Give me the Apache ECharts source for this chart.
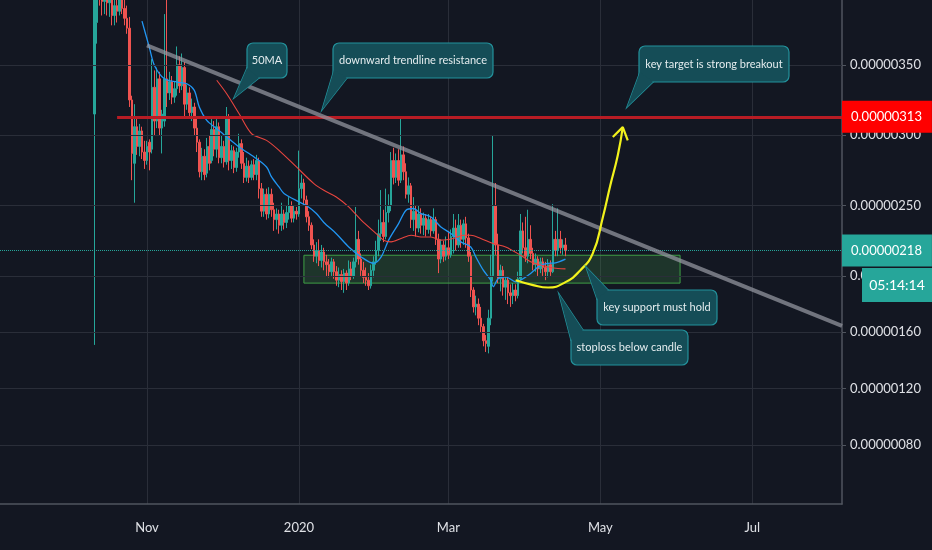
<!DOCTYPE html>
<html><head><meta charset="utf-8">
<script src="https://cdn.jsdelivr.net/npm/echarts@6/dist/echarts.min.js"></script>
<style>html,body{margin:0;padding:0;background:#131722;}#c{width:932px;height:550px;}</style>
</head><body><div id="c"></div>
<script>
// ---------- data (prices in units of 0.00000001) ----------
const axisStart = '2019-09-03';
const axisEnd = '2020-08-06';
const candleStart = '2019-10-11';
// [open, close, low, high] one per day from candleStart
const ohlc = [
[315,420,151,460],[380,425,365,450],[425,405,392,440],[405,395,385,420],[395,402,386,415],
[402,394,385,412],[394,398,384,410],[398,385,378,404],[385,392,378,400],[392,388,380,398],
[388,396,385,405],[396,390,386,404],[390,383,378,398],[383,376,372,392],[376,325,320,384],
[325,287,268,328],[280,306,252,322],[306,292,286,312],[292,303,285,308],[303,288,283,306],
[288,282,276,296],[282,292,279,296],[295,288,275,297],[290,334,287,354],[334,310,300,346],
[310,340,305,348],[340,305,300,345],[305,315,287,318],[310,340,306,386],[340,330,320,420],
[330,338,325,345],[338,327,322,342],[327,333,323,338],[333,350,328,363],[350,335,330,356],
[335,348,332,358],[348,322,313,352],[322,330,318,336],[330,316,312,334],[316,320,310,326],
[320,305,300,323],[305,295,288,312],[295,274,270,297],[274,285,268,291],[285,272,268,290],
[273,292,270,298],[292,280,275,300],[282,304,280,313],[304,290,285,310],[290,306,284,312],
[306,284,280,309],[284,292,280,300],[292,281,277,296],[281,313,279,320],[313,282,275,315],
[282,289,276,293],[289,277,273,292],[277,288,274,291],[288,294,284,301],[294,280,276,297],
[280,270,266,288],[270,278,267,284],[278,270,266,282],[270,279,268,282],[279,272,268,283],
[272,282,268,286],[282,262,255,284],[262,246,242,266],[246,258,242,262],[258,244,240,262],
[244,258,241,263],[258,247,242,262],[247,240,232,252],[240,244,233,248],[244,236,230,247],
[236,244,232,252],[244,238,233,247],[238,245,234,250],[245,250,240,256],[250,241,238,253],
[241,246,238,250],[246,244,240,249],[244,262,242,289],[262,266,255,272],[266,254,250,269],
[254,242,238,257],[242,236,232,246],[236,222,219,238],[222,214,210,226],[214,218,209,224],
[218,211,207,226],[211,217,206,222],[217,210,204,220],[210,208,200,215],[208,203,199,212],
[203,210,200,213],[210,203,198,212],[203,197,193,207],[197,201,192,206],[201,196,190,204],
[196,202,188,205],[202,195,190,204],[195,205,193,211],[205,200,197,210],[200,210,198,213],
[210,226,206,249],[226,212,208,232],[212,204,200,216],[204,199,195,210],[199,197,193,206],
[197,193,190,202],[193,204,191,208],[204,210,199,214],[210,218,208,225],[218,230,214,240],
[230,238,225,261],[238,228,224,247],[228,245,226,262],[245,250,238,258],[250,282,246,288],
[282,270,265,291],[270,282,266,287],[282,268,264,290],[268,286,266,312],[286,274,268,292],
[274,258,255,280],[258,264,252,270],[264,240,234,266],[240,246,232,256],[246,234,228,250],
[234,244,231,250],[244,236,230,248],[236,241,229,245],[241,233,228,244],[233,240,230,244],
[240,232,228,242],[232,240,230,248],[240,226,222,242],[226,212,202,230],[212,222,209,226],
[222,214,210,225],[214,220,211,228],[220,215,212,232],[215,228,213,233],[228,234,216,244],
[234,222,218,240],[222,236,220,244],[236,226,220,240],[226,237,222,240],[237,227,220,242],
[227,214,210,230],[214,190,185,217],[190,178,174,192],[178,180,172,186],[180,170,165,184],
[170,164,160,178],[164,154,150,166],[154,152,146,158],[150,170,145,176],[170,200,165,215],
[200,250,196,300],[250,222,215,266],[222,198,195,230],[198,204,189,208],[204,192,186,207],
[192,197,183,200],[197,188,180,199],[188,186,178,194],[186,190,180,195],[190,186,182,194],
[186,198,184,203],[198,232,196,244],[232,220,216,238],[220,214,210,242],[214,226,209,247],
[226,216,212,236],[216,208,204,220],[208,212,203,216],[212,205,200,214],[205,210,202,213],
[210,206,200,213],[206,203,197,210],[203,208,199,212],[208,203,200,211],[203,226,202,251],
[226,218,214,232],[218,226,214,248],[226,220,216,232],[220,222,215,226],[222,218,214,227]
];
const yTicks = [80, 120, 160, 200, 250, 300, 350];
const xTickDates = ['2019-11-01','2020-01-01','2020-03-01','2020-05-01','2020-07-01'];
const xTickLabels = ['Nov','2020','Mar','May','Jul'];

const ma20Dates = ['2019-10-30','2019-11-02','2019-11-04','2019-11-08','2019-11-13','2019-11-17','2019-11-20','2019-11-22','2019-11-25','2019-11-29','2019-12-03','2019-12-08','2019-12-14','2019-12-19','2019-12-21','2019-12-24','2019-12-26','2020-01-01','2020-01-04','2020-01-08','2020-01-11','2020-01-16','2020-01-21','2020-01-26','2020-01-31','2020-02-03','2020-02-06','2020-02-10','2020-02-13','2020-02-16','2020-02-19','2020-02-23','2020-02-27','2020-03-02','2020-03-06','2020-03-10','2020-03-12','2020-03-15','2020-03-18','2020-03-19','2020-03-21','2020-03-24','2020-03-28','2020-03-30','2020-04-03','2020-04-07','2020-04-10','2020-04-13','2020-04-17'];
const ma20Values = [381,362,349.5,340,337.7,336.5,331.8,320,310.5,304.6,298.7,291.6,284.5,277.4,270.3,263.2,258.6,252.6,250,244.3,238,230,220.6,213.5,208.9,213.5,225.4,237.2,246.7,247.9,244.3,241.9,234.8,230.1,224.2,220.6,213.5,204.1,197,192.3,198.2,199.4,195.8,197,201.8,207.7,208.9,209.3,212];

const ma50Dates = ['2019-11-29','2019-12-03','2019-12-08','2019-12-13','2019-12-19','2019-12-24','2019-12-31','2020-01-07','2020-01-11','2020-01-16','2020-01-21','2020-01-26','2020-02-01','2020-02-04','2020-02-07','2020-02-11','2020-02-15','2020-02-19','2020-02-23','2020-02-27','2020-03-03','2020-03-07','2020-03-10','2020-03-14','2020-03-19','2020-03-24','2020-03-30','2020-04-03','2020-04-07','2020-04-11','2020-04-14','2020-04-17'];
const ma50Values = [339,329.4,315.2,301,296.3,289.2,277.4,265.6,260.8,256.1,249,239.6,230.1,225.4,224.2,226.6,228.9,227.7,227.7,225.4,226.6,228.9,228.9,226.6,223,220.6,214.7,210,207.7,206,205.3,205];

const trendDates = ['2019-11-01','2020-08-06'];
const trendValues = [363.8, 164.5];
const resistanceFrom = '2019-10-20';
const resistanceLevel = 313;
const lastPrice = 218;
const supportDates = ['2020-01-03','2020-06-02'];
const supportValues = [214.7, 194.9];
const pathDates = ['2020-03-28','2020-04-04','2020-04-10','2020-04-17','2020-04-23','2020-04-28','2020-05-02','2020-05-05','2020-05-08','2020-05-10'];
const pathValues = [196.9,193.5,191.8,195.6,204.1,216.2,241.7,264.4,285.7,305.7];
const arrowDates = ['2020-05-06','2020-05-10','2020-05-12'];
const arrowValues = [298.7,305.7,296.3];
const timerText = '05:14:14';
const notes = ['50MA','downward trendline resistance','key target is strong breakout','key support must hold','stoploss below candle'];

// ---------- helpers ----------
function dayList(a, b) {
  const out = []; let t = Date.parse(a + 'T00:00:00Z'); const e = Date.parse(b + 'T00:00:00Z');
  while (t <= e) { out.push(new Date(t).toISOString().slice(0, 10)); t += 86400000; }
  return out;
}
const categories = dayList(axisStart, axisEnd);
const startIdx = categories.indexOf(candleStart);
const candleData = ohlc.map((v, i) => [categories[startIdx + i], v[0], v[1], v[2], v[3]]);
const pairs = (d, v) => d.map((x, i) => [x, v[i]]);
const fmt = v => (v / 1e8).toFixed(8);
const isTick = (i, v) => xTickDates.indexOf(v) >= 0;

const FONT = 'Lato';
const CF = '#154d57', CS = '#23929c';
function callout(b, tail, label) {
  return [
    { type: 'polygon', z: 100, shape: { points: tail }, style: { fill: CF, stroke: CS, lineWidth: 1.4 } },
    { type: 'rect', z: 101, shape: { x: b[0], y: b[1], width: b[2], height: b[3], r: 6 }, style: { fill: CF, stroke: CS, lineWidth: 1.2 } },
    { type: 'polygon', z: 102, shape: { points: tail }, style: { fill: CF } },
    { type: 'text', z: 103, x: b[0] + b[2] / 2, y: b[1] + b[3] / 2,
      style: { text: label, fill: '#e4ecee', fontSize: 11, fontFamily: FONT, align: 'center', verticalAlign: 'middle', textAlign: 'center', textVerticalAlign: 'middle' } }
  ];
}

const chart = echarts.init(document.getElementById('c'));
chart.setOption({
  backgroundColor: '#131722',
  animation: false,
  grid: { left: 0, right: 90, top: 0, bottom: 46, containLabel: false },
  xAxis: {
    type: 'category', data: categories, boundaryGap: false,
    axisLine: { show: true, lineStyle: { color: '#50555f', width: 1.5 } },
    axisTick: { show: false },
    axisLabel: { interval: isTick, formatter: v => xTickLabels[xTickDates.indexOf(v)] || '', color: '#dfe1e6', fontSize: 13, fontFamily: FONT, margin: 17 },
    splitLine: { show: true, interval: isTick, lineStyle: { color: '#2a2e39', width: 1 } }
  },
  yAxis: {
    type: 'value', position: 'right', min: 38, max: 396, scale: true,
    axisLine: { show: true, lineStyle: { color: '#50555f', width: 1.5 } },
    axisTick: { show: true, length: 4, customValues: yTicks, lineStyle: { color: '#50555f' } },
    splitLine: { show: false },
    axisLabel: { customValues: yTicks, formatter: fmt, color: '#dfe1e6', fontSize: 13, fontFamily: FONT, margin: 8 }
  },
  series: [
    { type: 'line', name: 'grid', data: [], z: 0, silent: true,
      markLine: { silent: true, symbol: ['none','none'], label: { show: false },
        lineStyle: { color: '#2a2e39', width: 1, type: 'solid' },
        data: yTicks.map(v => ({ yAxis: v })) } },
    { type: 'candlestick', name: 'price', data: candleData, encode: { x: 0, y: [1, 2, 3, 4] }, barWidth: 2, z: 3, clip: true,
      itemStyle: { color: '#26a69a', color0: '#ef5350', borderColor: '#26a69a', borderColor0: '#ef5350', borderWidth: 1 } },
    { type: 'line', name: 'MA20', data: pairs(ma20Dates, ma20Values), smooth: 0.3, symbol: 'none', z: 4,
      lineStyle: { color: '#2196f3', width: 1.3 } },
    { type: 'line', name: 'MA50', data: pairs(ma50Dates, ma50Values), smooth: 0.3, symbol: 'none', z: 4,
      lineStyle: { color: '#e8453f', width: 1.1 } },
    { type: 'line', name: 'trend', data: pairs(trendDates, trendValues), symbol: 'none', z: 5,
      lineStyle: { color: 'rgba(150,153,162,0.72)', width: 4 } },
    { type: 'line', name: 'support', data: [], z: 2,
      markArea: { silent: true, itemStyle: { color: 'rgba(76,175,80,0.2)', borderColor: '#3f9f45', borderWidth: 1 },
        data: [[{ xAxis: supportDates[0], yAxis: supportValues[0] }, { xAxis: supportDates[1], yAxis: supportValues[1] }]] } },
    { type: 'line', name: 'resistance', data: [], z: 6,
      markLine: { silent: true, symbol: ['none','none'],
        lineStyle: { color: '#b81c24', width: 3, type: 'solid' },
        label: { show: true, position: 'end', distance: 0, formatter: () => fmt(resistanceLevel), color: '#ffffff', backgroundColor: '#ff0000', padding: [10, 10, 9, 9], fontSize: 13, fontFamily: FONT },
        data: [[{ xAxis: resistanceFrom, yAxis: resistanceLevel }, { xAxis: axisEnd, yAxis: resistanceLevel }]] } },
    { type: 'line', name: 'last', data: [], z: 6,
      markLine: { silent: true, symbol: ['none','none'],
        lineStyle: { color: '#26a69a', width: 1, type: 'dotted' },
        label: { show: true, position: 'end', distance: 0, formatter: () => fmt(lastPrice), color: '#ffffff', backgroundColor: '#26a69a', padding: [10, 10, 9, 9], fontSize: 13, fontFamily: FONT },
        data: [{ yAxis: lastPrice }] } },
    { type: 'line', name: 'path', data: pairs(pathDates, pathValues), smooth: 0.5, symbol: 'none', z: 7,
      lineStyle: { color: '#f2f21c', width: 2.2 } },
    { type: 'line', name: 'arrow', data: pairs(arrowDates, arrowValues), symbol: 'none', z: 7,
      lineStyle: { color: '#f2f21c', width: 2.2 } }
  ],
  graphic: [
    ...callout([247, 43, 40, 35], [[247, 68], [234, 98], [259, 78]], notes[0]),
    ...callout([333, 43, 160, 35], [[334, 70], [322, 110], [347, 78]], notes[1]),
    ...callout([639, 46, 150, 36], [[640, 72], [627, 107], [653, 82]], notes[2]),
    ...callout([597, 290, 120, 35], [[597, 299], [586, 267], [608, 290]], notes[3]),
    ...callout([571, 330, 117, 35], [[571, 340], [559, 294], [583, 330]], notes[4]),
    { type: 'rect', z: 110, shape: { x: 862, y: 268, width: 70, height: 34 }, style: { fill: '#26a69a' } },
    { type: 'text', z: 111, x: 897, y: 285, style: { text: timerText, fill: '#ffffff', fontSize: 14, fontFamily: FONT, align: 'center', verticalAlign: 'middle', textAlign: 'center', textVerticalAlign: 'middle' } }
  ]
});
</script>
</body></html>
